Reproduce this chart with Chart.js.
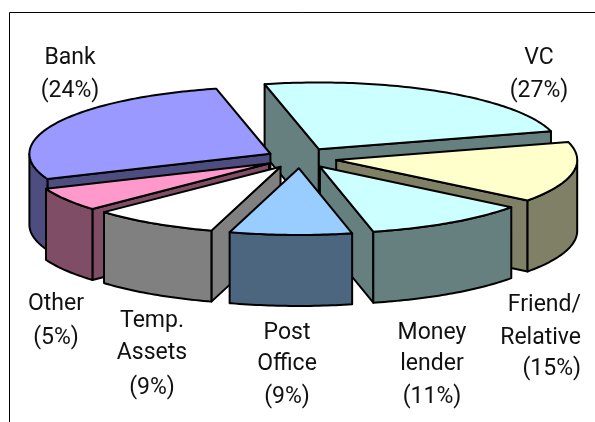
<!DOCTYPE html>
<html>
<head>
<meta charset="utf-8">
<style>html,body{margin:0;padding:0;background:#fff}canvas{display:block}</style>
<script src="https://cdn.jsdelivr.net/npm/chart.js@4"></script>
</head>
<body>
<canvas id="c" width="595" height="422"></canvas>
<script>
const categories = ['VC', 'Friend/Relative', 'Money lender', 'Post Office', 'Temp. Assets', 'Other', 'Bank'];
const shares = [27, 15, 11, 9, 9, 5, 24];
const topColors = ['#CCFFFF', '#FFFFCC', '#CCFFFF', '#99CCFF', '#FFFFFF', '#FF99CC', '#9999FF'];
const wallColors = ['#668080', '#808066', '#668080', '#4D6680', '#808080', '#804D66', '#4D4D80'];
const labelLines = [['VC'], ['Friend/', 'Relative'], ['Money', 'lender'], ['Post', 'Office'], ['Temp.', 'Assets'], ['Other'], ['Bank']];
const explode = [26, 26, 26, 26, 26, 26, 23.5];

// Layout of the oblique view and of the text (not data)
const view = {cx: 300, cy: 158, radius: 241, squash: 0.277, depth: 71};
const viewTwists = [
  {at: 335, by: 12, width: 30},
  {at: 72, by: 2.2, width: 25},
  {at: 140, by: 1.5, width: 30},
  {at: 166, by: 0.7, width: 12},
  {at: 198, by: -1.5, width: 15},
  {at: 230, by: -3.5, width: 16}
];
const labelLayout = [
  {x: 539, ys: [58, 91], align: 'center'},
  {x: 581, ys: [305, 338, 369], align: 'right'},
  {x: 432, ys: [333, 364, 397], align: 'center'},
  {x: 287, ys: [333, 364, 397], align: 'center'},
  {x: 152, ys: [321, 353, 388], align: 'center'},
  {x: 56, ys: [304, 338], align: 'center'},
  {x: 70, ys: [58, 91], align: 'center'}
];

const D = Math.PI / 180;
function twisted(deg) {
  let out = deg;
  viewTwists.forEach(t => {
    const d = ((deg - t.at + 540) % 360 + 360) % 360 - 180;
    out += t.by * Math.exp(-(d * d) / (t.width * t.width));
  });
  return out;
}

const obliquePie = {
  id: 'obliquePie',
  beforeDatasetsDraw(chart) {
    const ctx = chart.ctx;
    const arcs = chart.getDatasetMeta(0).data;
    const slices = arcs.map((el, i) => {
      const p = el.getProps(['startAngle', 'endAngle', 'outerRadius']);
      const a = twisted(p.startAngle / D + 90), b = twisted(p.endAngle / D + 90);
      const mid = (a + b) / 2 * D;
      const s = view.radius / p.outerRadius;
      const off = el.options.offset * s;
      return {i, a, b, mid, ox: off * Math.sin(mid), oy: off * Math.cos(mid), r: view.radius};
    });
    slices.sort((u, v) => Math.cos(v.mid) - Math.cos(u.mid));
    const pt = (sl, deg, rad, dz) => [
      view.cx + sl.ox + rad * Math.sin(deg * D),
      view.cy - view.squash * (sl.oy + rad * Math.cos(deg * D)) + dz
    ];
    const poly = (pts, fill) => {
      ctx.beginPath();
      pts.forEach((q, n) => n ? ctx.lineTo(q[0], q[1]) : ctx.moveTo(q[0], q[1]));
      ctx.closePath();
      ctx.fillStyle = fill;
      ctx.fill();
      ctx.stroke();
    };
    ctx.save();
    ctx.lineWidth = 2;
    ctx.lineJoin = 'round';
    ctx.strokeStyle = '#000';
    slices.forEach(sl => {
      const dep = view.depth, wall = wallColors[sl.i];
      const face = deg => [pt(sl, deg, 0, 0), pt(sl, deg, sl.r, 0), pt(sl, deg, sl.r, dep), pt(sl, deg, 0, dep)];
      if (Math.sin(sl.a * D) < 0) poly(face(sl.a), wall);
      if (-Math.sin(sl.b * D) < 0) poly(face(sl.b), wall);
      for (const shift of [0, 360]) {
        const w0 = Math.max(sl.a, 90 + shift), w1 = Math.min(sl.b, 270 + shift);
        if (w1 > w0) {
          const up = [], down = [];
          for (let d = w0; d < w1; d += 1) { up.push(pt(sl, d, sl.r, 0)); down.unshift(pt(sl, d, sl.r, dep)); }
          up.push(pt(sl, w1, sl.r, 0)); down.unshift(pt(sl, w1, sl.r, dep));
          poly(up.concat(down), wall);
        }
      }
      const top = [pt(sl, sl.a, 0, 0)];
      for (let d = sl.a; d < sl.b; d += 1) top.push(pt(sl, d, sl.r, 0));
      top.push(pt(sl, sl.b, sl.r, 0));
      poly(top, arcs[sl.i].options.backgroundColor);
    });
    ctx.restore();
    return false;
  },
  afterDraw(chart) {
    const ctx = chart.ctx;
    ctx.save();
    ctx.strokeStyle = '#000';
    ctx.lineWidth = 1;
    ctx.beginPath();
    ctx.moveTo(9.5, 422);
    ctx.lineTo(9.5, 12.5);
    ctx.lineTo(595, 12.5);
    ctx.stroke();
    ctx.fillStyle = '#111';
    ctx.font = '23px Roboto, sans-serif';
    ctx.textBaseline = 'middle';
    categories.forEach((c, i) => {
      const lines = labelLines[i].concat('(' + shares[i] + '%)');
      const l = labelLayout[i];
      ctx.textAlign = l.align;
      lines.forEach((t, n) => ctx.fillText(t, l.x, l.ys[n]));
    });
    ctx.restore();
  }
};

new Chart(document.getElementById('c'), {
  type: 'pie',
  data: {
    labels: categories,
    datasets: [{data: shares, backgroundColor: topColors, borderColor: '#000', borderWidth: 2, offset: explode}]
  },
  options: {
    responsive: false,
    animation: false,
    rotation: -25,
    radius: 170,
    plugins: {legend: {display: false}, tooltip: {enabled: false}}
  },
  plugins: [obliquePie]
});
</script>
</body>
</html>
